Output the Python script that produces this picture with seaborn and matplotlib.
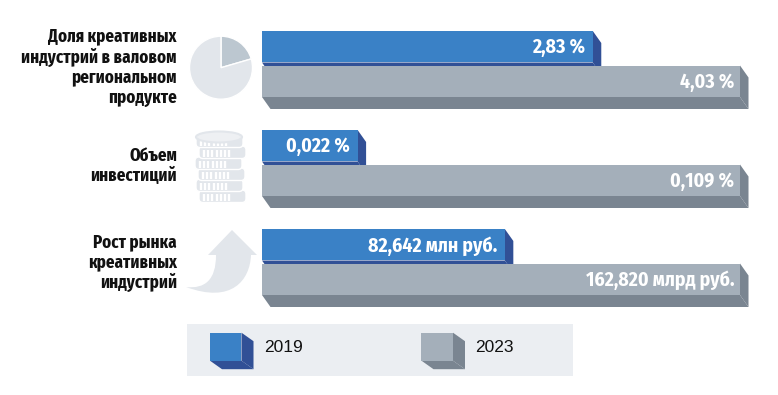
import numpy as np
import pandas as pd
import matplotlib.pyplot as plt
import seaborn as sns
from matplotlib.patches import Polygon, PathPatch, Rectangle, Ellipse, FancyBboxPatch
from matplotlib.path import Path

# data
categories = ['Доля креативных\nиндустрий в валовом\nрегиональном\nпродукте',
              'Объем\nинвестиций',
              'Рост рынка\nкреативных\nиндустрий']
years = ['2019', '2023']
# bar length as a share of the longer bar in the group
share_2019 = [0.692, 0.200, 0.508]
share_2023 = [1.0, 1.0, 1.0]
labels_2019 = ['2,83 %', '0,022 %', '82,642 млн руб.']
labels_2023 = ['4,03 %', '0,109 %', '162,820 млрд руб.']
pie_share = [20.5, 79.5]

blue, blue_dark = '#3A81C6', '#315096'
gray, gray_dark = '#A4AFBA', '#7A8591'
pale = '#E2E6EB'

W, H = 778, 395
NARROW = ['Fira Sans Condensed', 'Open Sans Condensed', 'Roboto', 'DejaVu Sans']
XNARROW = ['Fira Sans Extra Condensed', 'Fira Sans Condensed', 'Open Sans Condensed', 'Roboto', 'DejaVu Sans']

df = pd.DataFrame({
    'cat': categories * 2,
    'year': [years[0]] * 3 + [years[1]] * 3,
    'share': share_2019 + share_2023,
})

sns.set_style('white')
fig = plt.figure(figsize=(W / 100, H / 100), dpi=100)

# overlay in pixel coords for pictograms and legend
over = fig.add_axes([0, 0, 1, 1], zorder=0)
over.set_xlim(0, W)
over.set_ylim(H, 0)
over.axis('off')

# bars, y axis spans three group pitches of 99 px, x runs from 262 to 740 px
ax = fig.add_axes([262 / W, 1 - (64 + 2.5 * 99) / H, 478 / W, 3 * 99 / H], zorder=1)
sns.barplot(data=df, y='cat', x='share', hue='year', palette=[blue, gray],
            width=0.697, gap=0.087, saturation=1, legend=False, linewidth=0, ax=ax)
ax.set_xlim(0, 1)
ax.set_ylim(2.5, -0.5)
ax.axis('off')

# 3d faces
px_x = 1 / 478
px_y = 3 / (3 * 99)
dx, dy = 8.5 * px_x, 12 * px_y
bars = sorted(ax.patches, key=lambda p: p.get_y())
for i, bar in enumerate(bars):
    x0, y0, w, h = bar.get_x(), bar.get_y(), bar.get_width(), bar.get_height()
    c = blue_dark if i % 2 == 0 else gray_dark
    pad = 7.5 if i % 2 == 0 else 5.5
    z = 2 + i * 2
    bar.set_zorder(z + 1)
    bottom = [(x0, y0 + h), (x0 + w, y0 + h), (x0 + w + dx, y0 + h + dy), (x0 + dx, y0 + h + dy)]
    side = [(x0 + w, y0), (x0 + w + dx, y0 + dy), (x0 + w + dx, y0 + h + dy), (x0 + w, y0 + h)]
    for pts in (bottom, side):
        ax.add_patch(Polygon(pts, closed=True, fc=c, ec='none', zorder=z, clip_on=False))
    text = (labels_2019 if i % 2 == 0 else labels_2023)[i // 2]
    ax.text(x0 + w - pad * px_x, y0 + h / 2 + 1 * px_y, text, ha='right', va='center',
            color='white', fontsize=14.2, fontweight='bold', family=NARROW, zorder=20)

# category labels
for y, cat in zip([67, 166, 263], categories):
    over.text(177, y, cat, ha='right', va='center', fontsize=13.2, fontweight='bold',
              family=XNARROW, color='#111111', linespacing=1.15)

# pie pictogram
r = 31.5
pie_ax = fig.add_axes([(221 - r * 1.25) / W, 1 - (67.7 + r * 1.25) / H, 2.5 * r / W, 2.5 * r / H], zorder=1)
pie_ax.pie(pie_share, colors=['#BCC7D0', pale], startangle=90, counterclock=False)

# coin stack pictogram, drawn from the bottom up
coin_x = [199, 196, 198, 195, 199, 196]
coin_y = [190, 179, 168, 157, 146, 135]
for n, (cx, cy) in enumerate(zip(coin_x, coin_y)):
    over.add_patch(FancyBboxPatch((cx, cy), 47, 12.5, boxstyle='round,pad=0,rounding_size=4',
                                  fc=pale, ec='white', lw=1, zorder=1 + n))
    for k in np.arange(cx + 5, cx + 34, 4.2):
        over.plot([k, k], [cy + 3.5, cy + 11], color='white', lw=1.7, solid_capstyle='butt', zorder=1 + n)
over.add_patch(Ellipse((219, 137), 46, 11, fc='#EEF0F3', ec=pale, lw=1.5, zorder=9))

# arrow pictogram
verts = [(232, 230), (257, 255), (251, 255),
         (250, 280), (232, 304), (186, 287),
         (205, 289), (216, 280), (216, 255),
         (208, 255), (232, 230)]
codes = [Path.MOVETO, Path.LINETO, Path.LINETO,
         Path.CURVE4, Path.CURVE4, Path.CURVE4,
         Path.CURVE4, Path.CURVE4, Path.CURVE4,
         Path.LINETO, Path.CLOSEPOLY]
over.add_patch(PathPatch(Path(verts, codes), fc=pale, ec='none'))

# legend panel
over.add_patch(Rectangle((187, 324), 386, 52, fc='#EBEEF2', ec='none'))
for x, front, side_c, year in zip([210, 421.5], [blue, gray], [blue_dark, gray_dark], years):
    w, h, ddx, ddy = 31.5, 28, 12, 8.5
    y = 332.7
    over.add_patch(Polygon([(x, y + h), (x + w, y + h), (x + w + ddx, y + h + ddy), (x + ddx, y + h + ddy)], fc=side_c, ec='none'))
    over.add_patch(Polygon([(x + w, y), (x + w + ddx, y + ddy), (x + w + ddx, y + h + ddy), (x + w, y + h)], fc=side_c, ec='none'))
    over.add_patch(Rectangle((x, y), w, h, fc=front, ec='none'))
    over.text(x + w + 22.5, 347.5, year, ha='left', va='center', fontsize=12.5,
              family='Liberation Sans', color='#111111')

fig.savefig('out.png', dpi=100)
